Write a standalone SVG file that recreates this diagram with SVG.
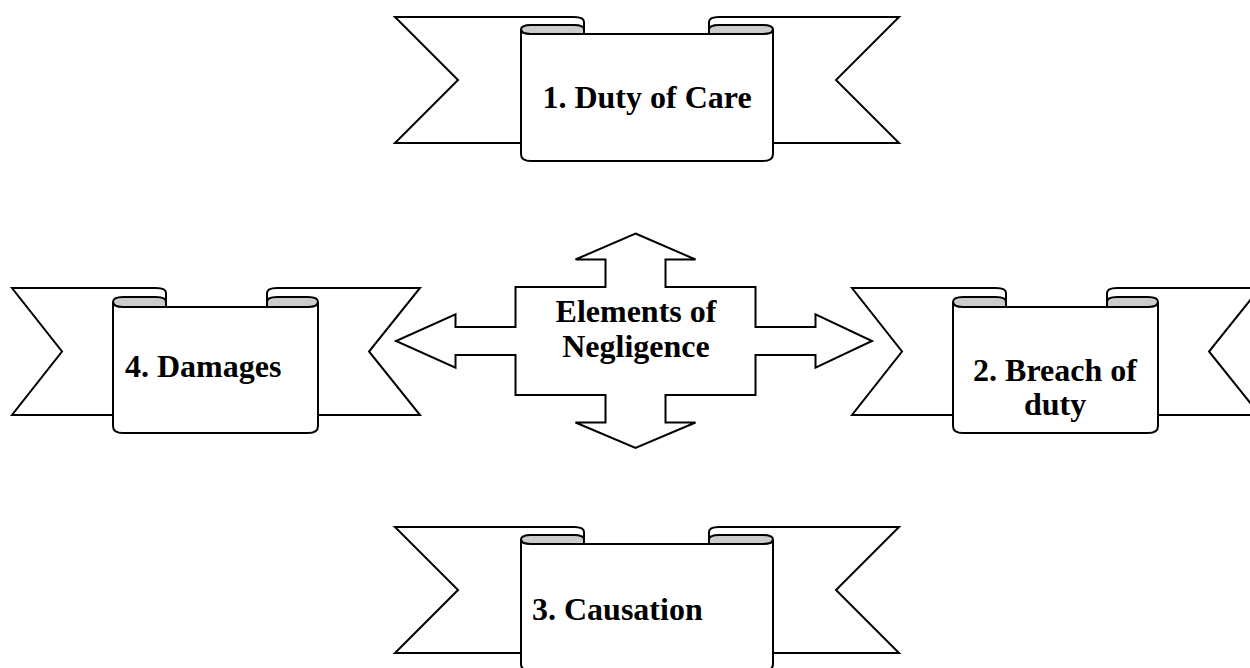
<svg xmlns="http://www.w3.org/2000/svg" xmlns:xlink="http://www.w3.org/1999/xlink" width="1250" height="668" viewBox="0 0 1250 668">
<style>
.s{stroke:#000;stroke-width:2;stroke-linejoin:miter;fill:#fff}
.g{stroke:#000;stroke-width:2;fill:#cccccc}
.t{font-family:"Liberation Serif","Times New Roman",serif;font-weight:bold;font-size:32px;fill:#000}
</style>
<defs>
<g id="bannerWide">
<path class="s" d="M395,17 H574 Q584,17 584,22 V143 H395 L458,80 Z"/>
<path class="s" d="M899,17 H719 Q709,17 709,22 V143 H899 L836,80 Z"/>
<path class="g" d="M584,34 V29.5 Q584,25 574,25 H531 Q521,25 521,29.5 Q521,34 531,34 Z"/>
<path class="g" d="M709,34 V29.5 Q709,25 719,25 H763 Q773,25 773,29.5 Q773,34 763,34 Z"/>
<path class="s" d="M521,29.5 Q521,34 531,34 H763 Q773,34 773,29.5 V154 Q773,161 763,161 H531 Q521,161 521,154 Z"/>
</g>
<g id="bannerNarrow">
<path class="s" d="M12,288 H156 Q166,288 166,293 V415 H12 L62,351.5 Z"/>
<path class="s" d="M420,288 H277 Q267,288 267,293 V415 H420 L369,351.5 Z"/>
<path class="g" d="M166,307 V302 Q166,297 156,297 H123 Q113,297 113,302 Q113,307 123,307 Z"/>
<path class="g" d="M267,307 V302 Q267,297 277,297 H308 Q318,297 318,302 Q318,307 308,307 Z"/>
<path class="s" d="M113,302 Q113,307 123,307 H308 Q318,307 318,302 V426 Q318,433 308,433 H123 Q113,433 113,426 Z"/>
</g>
</defs>
<g id="connectors"></g>
<g id="node-center">
<path class="s" d="M635.5,233.5 L695.5,259.5 H665.5 V287 H755.5 V327 H815.5 V314.3 L872,341 L815.5,367.7 V355 H755.5 V395 H665.5 V422.5 H695.5 L635.5,448 L575.5,422.5 H605.5 V395 H515.5 V355 H455.5 V367.7 L396,341 L455.5,314.3 V327 H515.5 V287 H605.5 V259.5 H575.5 Z"/>
<text class="t" x="636" y="322" text-anchor="middle">Elements of</text>
<text class="t" x="636" y="357" text-anchor="middle">Negligence</text>
</g>
<g id="node-duty">
<use xlink:href="#bannerWide"/>
<text class="t" x="647" y="108" text-anchor="middle">1. Duty of Care</text>
</g>
<g id="node-breach">
<use xlink:href="#bannerNarrow" transform="translate(840,0)"/>
<text class="t" x="1055" y="381" text-anchor="middle">2. Breach of</text>
<text class="t" x="1055" y="415" text-anchor="middle">duty</text>
</g>
<g id="node-causation">
<use xlink:href="#bannerWide" transform="translate(0,510)"/>
<text class="t" x="532" y="620">3. Causation</text>
</g>
<g id="node-damages">
<use xlink:href="#bannerNarrow"/>
<text class="t" x="125" y="377">4. Damages</text>
</g>
</svg>
